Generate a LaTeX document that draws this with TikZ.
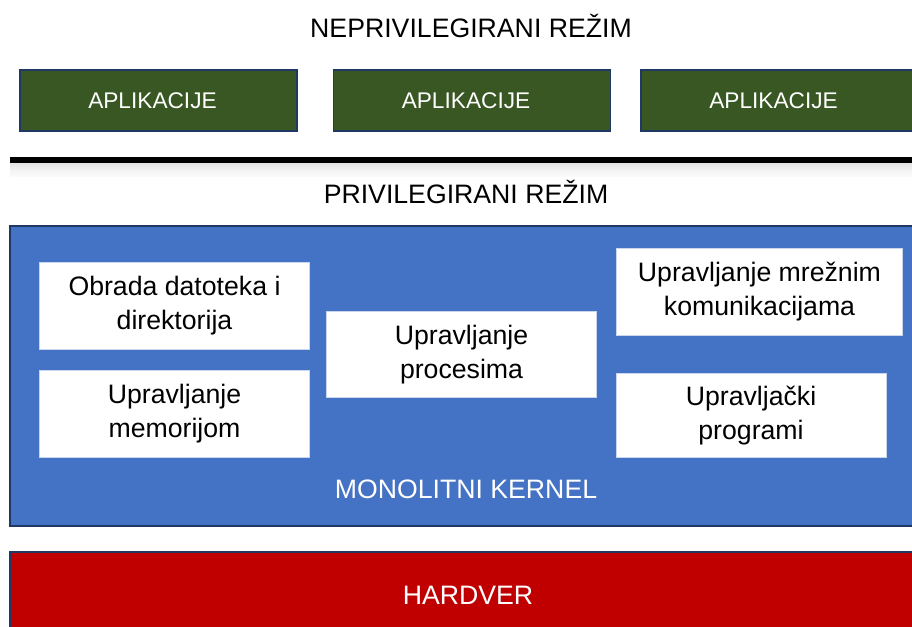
\documentclass[tikz,border=0pt]{standalone}
\usepackage{fontspec}
\setmainfont{Liberation Sans}
\usepackage{tikz}
\usetikzlibrary{positioning}

\definecolor{appgreen}{HTML}{385723}
\definecolor{kernblue}{HTML}{4472C4}
\definecolor{hwred}{HTML}{C00000}
\definecolor{edgenavy}{HTML}{203864}
\definecolor{modedge}{HTML}{C9D5EC}

\begin{document}
\begin{tikzpicture}[x=0.75pt, y=-0.75pt,
    naslov/.style={font=\fontsize{20}{24}\selectfont, text=black},
    aplikacija/.style={draw=edgenavy, line width=1.1pt, fill=appgreen, text=white,
        font=\fontsize{17}{20}\selectfont, minimum width=207.75pt, minimum height=45.75pt, inner sep=0pt},
    modul/.style={draw=modedge, line width=0.6pt, fill=white, text=black, align=center,
        font=\fontsize{20}{25.5}\selectfont, minimum width=202pt, minimum height=65pt, inner sep=0pt},
    sloj/.style={draw=edgenavy, line width=1.1pt, inner sep=0pt, minimum width=681pt}
]
    % okvir slike
    \useasboundingbox (0,0) rectangle (912,626);

    % neprivilegirani dio
    \node[naslov] (neprivilegirani) at (471,26) {NEPRIVILEGIRANI REŽIM};
    \node[aplikacija] (app1) at (158.5,100.5) {APLIKACIJE\hspace*{9pt}};
    \node[aplikacija] (app2) at (472,100.5) {APLIKACIJE\hspace*{9pt}};
    \node[aplikacija] (app3) at (779.5,100.5) {APLIKACIJE\hspace*{9pt}};

    % granica izmedju rezima (sa sjenom)
    \coordinate (granicaL) at (10,160);
    \coordinate (granicaD) at (912,160);
    \foreach \k/\o in {1/0.12,2/0.10,3/0.09,4/0.07,5/0.05,6/0.04,7/0.03,8/0.02}
        \draw[line width=2pt, black, opacity=\o] ([yshift=-\k*1.5pt]granicaL) -- ([yshift=-\k*1.5pt]granicaD);
    \draw[line width=4.5pt, black] (granicaL) -- (granicaD);

    % privilegirani dio
    \node[naslov] (privilegirani) at (466,192) {PRIVILEGIRANI REŽIM};
    \node[sloj, fill=kernblue, minimum height=225pt] (kernel) at (464,376) {};
    \node[naslov, text=white] (kerneltxt) at (466,489) {MONOLITNI KERNEL};

    \node[modul] (datoteke) at (174.5,306) {Obrada datoteka i\\direktorija};
    \node[modul] (memorija) at (174.5,414) {Upravljanje\\memorijom};
    \node[modul] (procesi) at (461.5,354.5) {Upravljanje\\procesima};
    \node[modul, minimum width=214pt] (mreza) at (759.5,292) {Upravljanje mrežnim\\komunikacijama};
    \node[modul, minimum width=202.5pt, minimum height=62.5pt] (drajveri) at (751,415.5) {Upravljački\\programi};

    % hardver
    \node[sloj, fill=hwred, minimum height=66pt] (hardver) at (464,596) {};
    \node[naslov, text=white] (hardvertxt) at (468,595) {HARDVER};
\end{tikzpicture}
\end{document}
